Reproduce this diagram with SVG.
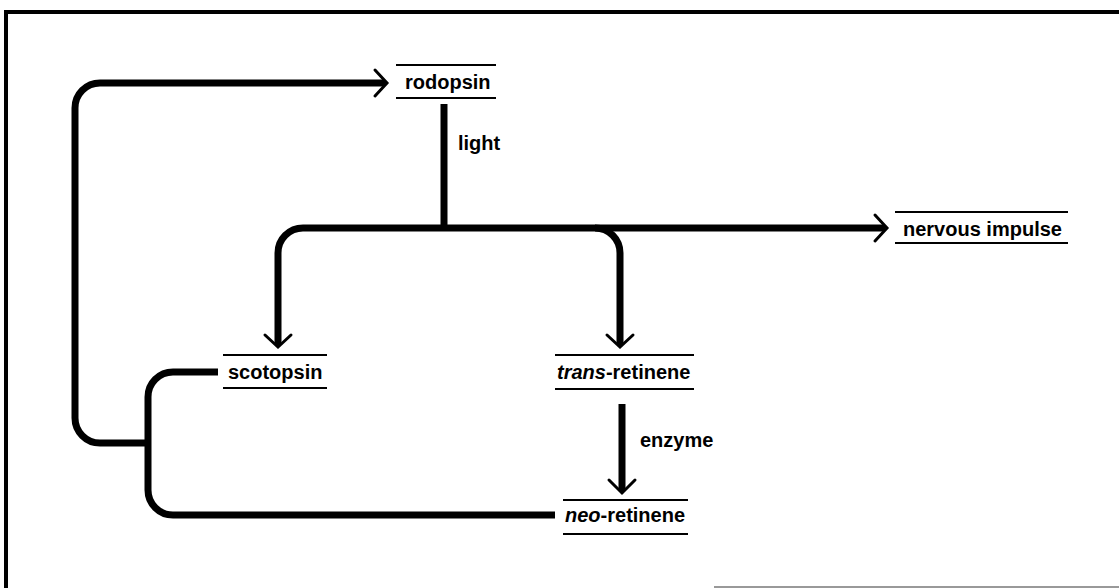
<svg xmlns="http://www.w3.org/2000/svg" width="1119" height="588" viewBox="0 0 1119 588">
  <style>
    .frame { stroke: #000; stroke-width: 4; fill: none; }
    .conn { stroke: #000; stroke-width: 7; fill: none; stroke-linejoin: round; }
    .head { stroke: #000; stroke-width: 3; fill: none; stroke-linecap: round; stroke-linejoin: miter; }
    .rule { stroke: #000; stroke-width: 2; }
    .lbl { font-family: "Liberation Sans", Arial, Helvetica, sans-serif; font-size: 20px; font-weight: bold; fill: #000; }
    .it { font-style: italic; }
  </style>
  <rect width="1119" height="588" fill="#fff"/>

  <!-- frame -->
  <g id="frame">
    <line class="frame" x1="4" y1="12" x2="1119" y2="12"/>
    <line class="frame" x1="6" y1="10" x2="6" y2="588"/>
    <line x1="714" y1="587" x2="1119" y2="587" stroke="#999" stroke-width="2"/>
  </g>

  <!-- connectors -->
  <g id="connectors">
    <!-- recombination loop back to rodopsin -->
    <path class="conn" d="M148 443 H100 A25 25 0 0 1 75 418 V108 A25 25 0 0 1 100 83 H385"/>
    <path class="head" d="M375 70 L387 83 L375 96"/>
    <!-- scotopsin / neo-retinene junction -->
    <path class="conn" d="M218 372 H173 A25 25 0 0 0 148 397 V490 A25 25 0 0 0 173 515 H555"/>
    <!-- light -->
    <path class="conn" d="M444 104 V228"/>
    <!-- split -->
    <path class="conn" d="M278 345 V253 A25 25 0 0 1 303 228 H885"/>
    <path class="head" d="M875 215 L887 228 L875 241"/>
    <path class="head" d="M265 335 L278 347 L291 335"/>
    <path class="conn" d="M595 228 A25 25 0 0 1 620 253 V345"/>
    <path class="head" d="M607 335 L620 347 L633 335"/>
    <!-- enzyme -->
    <path class="conn" d="M622 404 V491"/>
    <path class="head" d="M609 480 L622 493 L635 480"/>
  </g>

  <!-- nodes -->
  <g id="rodopsin">
    <line class="rule" x1="396" y1="65" x2="496" y2="65"/>
    <text class="lbl" x="405" y="89">rodopsin</text>
    <line class="rule" x1="396" y1="98" x2="496" y2="98"/>
  </g>
  <g id="light">
    <text class="lbl" x="458" y="150">light</text>
  </g>
  <g id="nervous-impulse">
    <line class="rule" x1="895" y1="212" x2="1068" y2="212"/>
    <text class="lbl" x="903" y="236">nervous impulse</text>
    <line class="rule" x1="895" y1="243" x2="1068" y2="243"/>
  </g>
  <g id="scotopsin">
    <line class="rule" x1="223" y1="355" x2="327" y2="355"/>
    <text class="lbl" x="228" y="379">scotopsin</text>
    <line class="rule" x1="223" y1="388" x2="327" y2="388"/>
  </g>
  <g id="trans-retinene">
    <line class="rule" x1="555" y1="355" x2="694" y2="355"/>
    <text class="lbl" x="557" y="379"><tspan class="it">trans</tspan>-retinene</text>
    <line class="rule" x1="555" y1="389" x2="694" y2="389"/>
  </g>
  <g id="enzyme">
    <text class="lbl" x="640" y="447">enzyme</text>
  </g>
  <g id="neo-retinene">
    <line class="rule" x1="563" y1="500" x2="688" y2="500"/>
    <text class="lbl" x="565" y="522"><tspan class="it">neo</tspan>-retinene</text>
    <line class="rule" x1="563" y1="534" x2="688" y2="534"/>
  </g>
</svg>
